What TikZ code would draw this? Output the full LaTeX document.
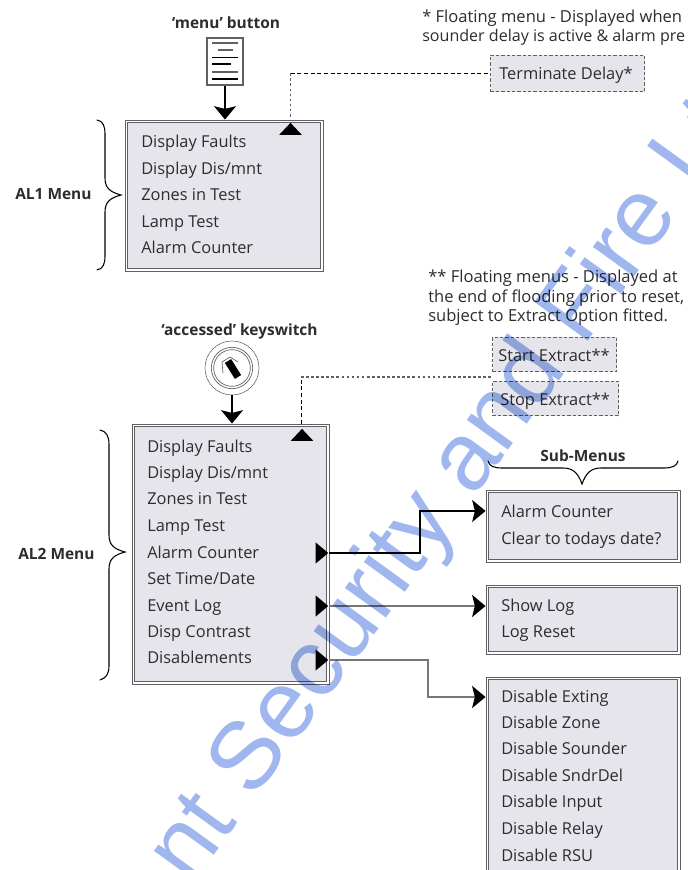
\documentclass[tikz,border=0pt]{standalone}
\usepackage{fontspec}
\setmainfont{Open Sans}
\newfontfamily\markfont{Liberation Sans}
\usetikzlibrary{arrows.meta,shapes.geometric,calc}
\definecolor{panel}{RGB}{229,229,235}
\definecolor{edge}{RGB}{95,95,100}
\definecolor{mark}{RGB}{160,182,238}
\definecolor{ink}{RGB}{45,45,48}
\tikzset{
  x=0.75pt,y=-0.75pt,
  menubox/.style={draw=edge,line width=0.7pt,fill=white,inner sep=0pt},
  innerbox/.style={draw=edge,line width=0.6pt,fill=panel},
  floatbox/.style={draw=edge,line width=0.7pt,dash pattern=on 2.5pt off 1.5pt,fill=panel,inner sep=0pt},
  item/.style={anchor=base west,inner sep=0pt,font=\fontsize{12.3pt}{14pt}\selectfont,text=ink},
  note/.style={anchor=base west,inner sep=0pt,font=\fontsize{12.4pt}{14pt}\selectfont,text=ink},
  head/.style={anchor=base,inner sep=0pt,font=\fontsize{11.6pt}{14pt}\selectfont\bfseries,text=ink},
  uptri/.style={isosceles triangle,isosceles triangle stretches,shape border rotate=90,fill=black,inner sep=0pt,minimum width=17pt,minimum height=9pt},
  righttri/.style={isosceles triangle,isosceles triangle stretches,fill=black,inner sep=0pt,minimum width=16pt,minimum height=9.5pt},
  thinlink/.style={draw=black,line width=0.8pt},
  greylink/.style={draw=edge!85,line width=1.9pt},
  arrowlink/.style={-{Stealth[length=10pt,width=16.5pt,inset=2pt,color=black,fill=black]}},
  dashlink/.style={draw=black,line width=0.7pt,dash pattern=on 3pt off 2pt},
  dotlink/.style={draw=edge,line width=0.9pt,dash pattern=on 2pt off 1.8pt},
  bracepath/.style={draw=black,line width=0.8pt,line cap=round},
}
\begin{document}
\begin{tikzpicture}
\useasboundingbox (0,0) rectangle (687,870);
\clip (0,0) rectangle (687,870);
\fill[white] (0,0) rectangle (687,870);

% boxes
\node[menubox,minimum width=148.5pt,minimum height=113.25pt] (al1) at (224,195.5) {};
\node[menubox,minimum width=147.75pt,minimum height=195pt] (al2) at (230.5,554) {};
\node[menubox,minimum width=145.5pt,minimum height=54pt] (sub1) at (583,526) {};
\node[menubox,minimum width=145.5pt,minimum height=51.75pt] (sub2) at (583,619.5) {};
\node[menubox,minimum width=145.5pt,minimum height=152pt] (sub3) at (583,778.5) {};
\foreach \b in {al1,al2,sub1,sub2,sub3}{
  \draw[innerbox] ($(\b.north west)+(3,3)$) rectangle ($(\b.south east)+(-3,-3)$);
}
\node[floatbox,minimum width=115.5pt,minimum height=27.5pt] (term) at (567.5,73.5) {};
\node[floatbox,minimum width=93pt,minimum height=26pt] (startx) at (554.5,354.5) {};
\node[floatbox,minimum width=94.5pt,minimum height=26pt] (stopx) at (555.5,398.5) {};

% menu button
\node[draw=edge,line width=1.2pt,fill=white,minimum width=27pt,minimum height=35pt,inner sep=0pt] (btn) at (225,61.5) {};
\draw[edge,line width=1.1pt] (212,43) -- (238,43) (218,50) -- (233,50) (212,72) -- (238,72);
\draw[black,line width=0.8pt] (212,57.5) -- (238,57.5) (212,64) -- (231,64) (212,79) -- (238,79);

% keyswitch
\node[circle,draw=edge,line width=0.4pt,minimum size=40.5pt,inner sep=0pt] (key) at (232,368) {};
\node[circle,draw=edge,line width=0.5pt,minimum size=31pt,inner sep=0pt] (keyouter) at (key.center) {};
\node[circle,draw=edge,line width=0.5pt,minimum size=27.5pt,inner sep=0pt] (keyring) at (key.center) {};
\draw[black,line width=5.5pt] (228,361) -- (238,377);
\draw[edge,line width=0.5pt] (223,373) -- (222,362) -- (230,357) -- (238,362);

% text
\node[head] (hmenu) at (226,29) {‘menu’ button};
\node[head] (hkey) at (239.5,335) {‘accessed’ keyswitch};
\node[head,anchor=base west] (hal1) at (15,199) {AL1 Menu};
\node[head,anchor=base west] (hal2) at (18,559) {AL2 Menu};
\node[head] (hsub) at (583,461) {Sub-Menus};

\node[note] (n1a) at (422,23) {* Floating menu - Displayed when};
\node[note,font=\fontsize{12.05pt}{14pt}\selectfont] (n1b) at (422,42) {sounder delay is active \& alarm pre};
\node[note] (n2a) at (428,282) {** Floating menus - Displayed at};
\node[note] (n2b) at (428,302) {the end of flooding prior to reset,};
\node[note] (n2c) at (428,321) {subject to Extract Option fitted.};

\node[item] (tterm) at (499,79.5) {Terminate Delay*};
\node[item] (tstart) at (498,361) {Start Extract**};
\node[item] (tstop) at (500,405) {Stop Extract**};

\node[item] (a1) at (141,147) {Display Faults};
\node[item] (a2) at (141,174) {Display Dis/mnt};
\node[item] (a3) at (141,200) {Zones in Test};
\node[item] (a4) at (141,227) {Lamp Test};
\node[item] (a5) at (141,253) {Alarm Counter};

\node[item] (b1) at (147,452) {Display Faults};
\node[item] (b2) at (147,478) {Display Dis/mnt};
\node[item] (b3) at (147,504) {Zones in Test};
\node[item] (b4) at (147,531) {Lamp Test};
\node[item] (b5) at (147,558) {Alarm Counter};
\node[item] (b6) at (147,584) {Set Time/Date};
\node[item] (b7) at (147,611) {Event Log};
\node[item] (b8) at (147,637) {Disp Contrast};
\node[item] (b9) at (147,663) {Disablements};

\node[item] (c1) at (501,517) {Alarm Counter};
\node[item] (c2) at (501,544) {Clear to todays date?};
\node[item] (d1) at (501,611) {Show Log};
\node[item] (d2) at (501,637) {Log Reset};
\node[item] (e1) at (501,702) {Disable Exting};
\node[item] (e2) at (501,728) {Disable Zone};
\node[item] (e3) at (501,754) {Disable Sounder};
\node[item] (e4) at (501,781) {Disable SndrDel};
\node[item] (e5) at (501,807) {Disable Input};
\node[item] (e6) at (501,834) {Disable Relay};
\node[item] (e7) at (501,861) {Disable RSU};

% markers
\node[uptri] (tr1) at (290.5,130) {};
\node[uptri] (tr2) at (302,436) {};
\node[righttri] (r1) at (320.5,553) {};
\node[righttri] (r2) at (320.5,606) {};
\node[righttri] (r3) at (320.5,660) {};

% connectors
\draw[thinlink,arrowlink] (btn.south) -- (btn.south |- al1.north);
\draw[thinlink,arrowlink] (key.south) -- (key.south |- al2.north);

\coordinate (cn1) at (tr1.north |- term.west);
\coordinate (cn2) at (301,377);
\draw[dashlink] (cn1) -- (term.west);
\draw[dotlink] (tr1.north |- al1.north) ++(0,-3) -- (cn1);
\draw[dashlink] (cn2 |- al2.north) -- (cn2);
\draw[dotlink] (cn2) -- (cn2 -| startx.west);

\coordinate (in1) at (sub1.west |- 0,511);
\coordinate (in2) at (sub2.west |- r2.east);
\coordinate (in3) at (sub3.west |- 0,697);
\draw[thinlink,arrowlink] (r1.east) -- (420,553) -- (420,511) -- (in1);
\draw[greylink,arrowlink] (r2.east) -- (in2);
\draw[greylink,arrowlink] (r3.east) -- (428,660) -- (428,697) -- (in3);

% braces
\draw[bracepath] (97,120) .. controls (103,121) and (105,126) .. (105,134) -- (105,178) .. controls (105,188) and (110,192) .. (121,195) .. controls (110,198) and (105,202) .. (105,212) -- (105,256) .. controls (105,264) and (103,269) .. (97,270);
\draw[bracepath] (100,430) .. controls (106,431) and (109,436) .. (109,444) -- (109,535) .. controls (109,545) and (114,549) .. (125,552) .. controls (114,555) and (109,559) .. (109,569) -- (109,666) .. controls (109,674) and (106,678) .. (100,680);
\draw[bracepath] (488,461) .. controls (489,466) and (494,468) .. (502,468) -- (563,468) .. controls (573,468) and (578,473) .. (582,484) .. controls (586,473) and (591,468) .. (601,468) -- (664,468) .. controls (672,468) and (677,466) .. (678,461);

% watermark
\begin{scope}[blend mode=multiply]
\node[anchor=base west,rotate=54,inner sep=0pt,text=mark,font=\fontsize{72pt}{80pt}\selectfont\markfont] (wm) at (191,887) {nt Security and Fire Ltd};
\end{scope}
\end{tikzpicture}
\end{document}
